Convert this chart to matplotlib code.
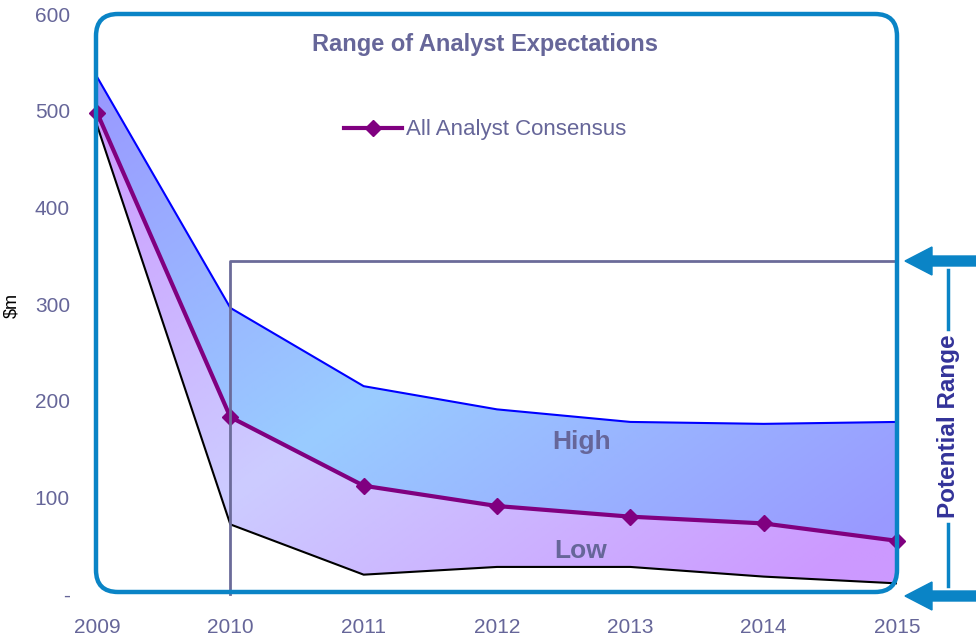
import numpy as np
import matplotlib
matplotlib.use("Agg")
import matplotlib.pyplot as plt
from matplotlib.patches import FancyBboxPatch, FancyArrow, Polygon
from matplotlib.transforms import IdentityTransform

plt.rcParams['font.family'] = ['Liberation Sans', 'DejaVu Sans']

years = [2009, 2010, 2011, 2012, 2013, 2014, 2015]
high = [535, 296, 215, 191, 178, 176, 178]
consensus = [498, 183, 112, 91, 80, 73, 55]
low = [485, 72, 20, 28, 28, 18, 11]
range_top = 345
range_start = 2010
yticks = [0, 100, 200, 300, 400, 500, 600]
ytick_labels = ['-', '100', '200', '300', '400', '500', '600']

label_col = '#666699'
box_col = '#0a84c6'

fig = plt.figure(figsize=(9.76, 6.36), dpi=100)
ax = fig.add_axes([97/976, 42/636, 800/976, 580/636])
ax.set_xlim(2009, 2015)
ax.set_ylim(0, 600)
for s in ax.spines.values():
    s.set_visible(False)

ax.set_yticks(yticks)
ax.set_yticklabels(ytick_labels)
ax.set_xticks(years)
ax.set_xticklabels([str(y) for y in years])
ax.tick_params(axis='both', length=0, colors=label_col, labelsize=15)
ax.tick_params(axis='y', pad=19.5)
ax.tick_params(axis='x', pad=17)
fig.text(12 / 976, 1 - 305 / 636, '$m', rotation=90, ha='center', va='center',
         fontsize=13, color='black')

# gradient fills clipped to the band polygons
gx, gy = np.meshgrid(np.linspace(0, 1, 300), np.linspace(0, 1, 200))
mix = np.clip(np.abs(gx - gy) * 1.15, 0, 1)[..., None]

def band(upper, lower, light, dark):
    img = np.array(light) * (1 - mix) + np.array(dark) * mix
    im = ax.imshow(img, extent=[2009, 2015, 0, 600], origin='lower',
                   aspect='auto', zorder=1)
    verts = list(zip(years, upper)) + list(zip(years[::-1], lower[::-1]))
    poly = Polygon(verts, closed=True, transform=ax.transData, facecolor='none', edgecolor='none')
    ax.add_patch(poly)
    im.set_clip_path(poly)

band(high, consensus, (0.6, 0.8, 1.0), (0.6, 0.6, 1.0))
band(consensus, low, (0.8, 0.8, 1.0), (0.8, 0.6, 1.0))
ax.set_xlim(2009, 2015)
ax.set_ylim(0, 600)

ax.plot(years, high, color='#0000ff', lw=1.5, zorder=3)
ax.plot(years, low, color='black', lw=1.5, zorder=3)
ax.plot(years, consensus, color='#800080', lw=3, marker='D', markersize=8,
        zorder=4, clip_on=False, label='All Analyst Consensus')

# potential range bracket
ax.plot([range_start, range_start, 2015], [0, range_top, range_top],
        color='#6b6b99', lw=2, zorder=5, clip_on=False)

ax.text(0.485, 0.947, 'Range of Analyst Expectations', transform=ax.transAxes,
        ha='center', va='center', fontsize=17, fontweight='bold', color=label_col)
ax.text(0.606, 0.262, 'High', transform=ax.transAxes, ha='center', va='center',
        fontsize=19, fontweight='bold', color=label_col, zorder=6)
ax.text(0.604, 0.074, 'Low', transform=ax.transAxes, ha='center', va='center',
        fontsize=19, fontweight='bold', color=label_col, zorder=6)

leg = ax.legend(loc='center', bbox_to_anchor=(0.485, 0.8), frameon=False,
                fontsize=16, handlelength=2.6, handletextpad=0.2, borderpad=0)
for t in leg.get_texts():
    t.set_color(label_col)

# rounded border (pixel coords)
box = FancyBboxPatch((96, 44), 801, 578, boxstyle='round,pad=0,rounding_size=22',
                     transform=IdentityTransform(), facecolor='none',
                     edgecolor=box_col, lw=3.2, zorder=10)
fig.patches.append(box)

# arrows on the right
for ypix in [636 - 261, 636 - 596]:
    fig.patches.append(FancyArrow(985, ypix, -80, 0, width=10, head_width=28,
                                  head_length=27, length_includes_head=True,
                                  color=box_col, transform=IdentityTransform()))
fig.add_artist(plt.Line2D([948, 948], [636 - 270, 636 - 329], color=box_col, lw=2.5,
                          transform=IdentityTransform()))
fig.add_artist(plt.Line2D([948, 948], [636 - 524, 636 - 586], color=box_col, lw=2.5,
                          transform=IdentityTransform()))
fig.text(948 / 976, 1 - 426 / 636, 'Potential Range', rotation=90, ha='center', va='center',
         fontsize=17.5, fontweight='bold', color='#333399')

fig.savefig('out.png', dpi=100)
